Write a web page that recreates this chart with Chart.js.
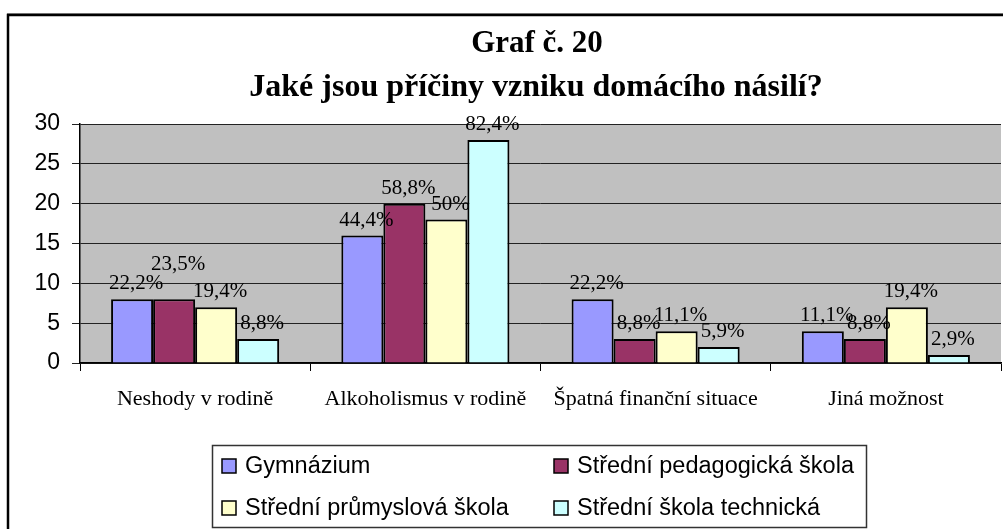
<!DOCTYPE html>
<html>
<head>
<meta charset="utf-8">
<script src="https://cdn.jsdelivr.net/npm/chart.js@4/dist/chart.umd.min.js"></script>
<style>
  html, body { margin: 0; padding: 0; background: #fff; }
  #wrap { width: 1003px; height: 529px; position: relative; }
</style>
</head>
<body>
<div id="wrap"><canvas id="c" width="1003" height="529"></canvas></div>
<script>
const titleLines = ["Graf č. 20", "Jaké jsou příčiny vzniku domácího násilí?"];
const categories = ["Neshody v rodině", "Alkoholismus v rodině", "Špatná finanční situace", "Jiná možnost"];
const seriesNames = ["Gymnázium", "Střední pedagogická škola", "Střední průmyslová škola", "Střední škola technická"];
const gymnazium = [8, 16, 8, 4];
const pedagogicka = [8, 20, 3, 3];
const prumyslova = [7, 18, 4, 7];
const technicka = [3, 28, 2, 1];
const gymnaziumPct = ["22,2%", "44,4%", "22,2%", "11,1%"];
const pedagogickaPct = ["23,5%", "58,8%", "8,8%", "8,8%"];
const prumyslovaPct = ["19,4%", "50%", "11,1%", "19,4%"];
const technickaPct = ["8,8%", "82,4%", "5,9%", "2,9%"];
const yTicks = [0, 5, 10, 15, 20, 25, 30];

const colors = ["#9999FF", "#993366", "#FFFFCC", "#CCFFFF"];
const serif = "'Liberation Serif', 'Times New Roman', serif";
const sans = "'Liberation Sans', Arial, sans-serif";

const values = [gymnazium, pedagogicka, prumyslova, technicka];
const pcts = [gymnaziumPct, pedagogickaPct, prumyslovaPct, technickaPct];

// frame, title, grey plot area, value labels and the boxed legend
const decor = {
  id: "decor",
  beforeDraw(chart) {
    const ctx = chart.ctx;
    ctx.save();
    ctx.fillStyle = "#fff";
    ctx.fillRect(0, 0, chart.width, chart.height);
    ctx.strokeStyle = "#999";
    ctx.lineWidth = 1;
    ctx.beginPath();
    ctx.moveTo(7, 13.5);
    ctx.lineTo(chart.width, 13.5);
    ctx.stroke();
    ctx.strokeStyle = "#000";
    ctx.lineWidth = 2.5;
    ctx.strokeRect(8, 15, chart.width + 20, chart.height + 20);
    const a = chart.chartArea;
    ctx.fillStyle = "#C0C0C0";
    ctx.fillRect(a.left, a.top, a.right - a.left, a.bottom - a.top);

    ctx.fillStyle = "#000";
    ctx.textAlign = "center";
    ctx.textBaseline = "middle";
    ctx.font = "bold 31px " + serif;
    ctx.fillText(titleLines[0], 537, 44);
    ctx.font = "bold 32px " + serif;
    ctx.fillText(titleLines[1], 536, 88);
    ctx.restore();
  },
  afterDatasetsDraw(chart) {
    const ctx = chart.ctx;
    ctx.save();
    ctx.font = "21px " + serif;
    ctx.fillStyle = "#000";
    ctx.textAlign = "center";
    ctx.textBaseline = "alphabetic";
    const h = 15;
    categories.forEach((c, j) => {
      const placed = [];
      chart.data.datasets.forEach((ds, i) => {
        const bar = chart.getDatasetMeta(i).data[j];
        const text = pcts[i][j];
        const w = ctx.measureText(text).width;
        const x = bar.x + 4;
        let y = bar.y - 10;
        // lift a label that would sit on top of its left neighbour
        placed.forEach((p) => {
          const hOver = Math.min(p.x + p.w / 2, x + w / 2) - Math.max(p.x - p.w / 2, x - w / 2);
          const vOver = Math.min(p.y, y) - Math.max(p.y - h, y - h);
          if (hOver > 9 && vOver > 0) y = p.y - h - 4;
        });
        placed.push({ x, y, w });
        ctx.fillText(text, x, y);
      });
    });
    ctx.restore();
  },
  afterDraw(chart) {
    const ctx = chart.ctx;
    ctx.save();
    ctx.strokeStyle = "#333";
    ctx.lineWidth = 1.5;
    ctx.strokeRect(212.5, 445.5, 654, 82);
    ctx.font = "23.5px " + sans;
    ctx.textBaseline = "middle";
    const cols = [222, 554];
    const rows = [466, 508];
    chart.data.datasets.forEach((ds, i) => {
      const x = cols[i % 2];
      const y = rows[Math.floor(i / 2)];
      ctx.fillStyle = ds.backgroundColor;
      ctx.fillRect(x, y - 7, 14, 14);
      ctx.strokeStyle = "#000";
      ctx.lineWidth = 1.5;
      ctx.strokeRect(x, y - 7, 14, 14);
      ctx.fillStyle = "#000";
      ctx.fillText(ds.label, x + 23, y + 1);
    });
    ctx.restore();
  }
};

new Chart(document.getElementById("c"), {
  type: "bar",
  data: {
    labels: categories,
    datasets: seriesNames.map((name, i) => ({
      label: name,
      data: values[i],
      backgroundColor: colors[i],
      borderColor: "#000",
      borderWidth: 2,
      barPercentage: 1,
      categoryPercentage: 0.73
    }))
  },
  options: {
    responsive: false,
    animation: false,
    layout: { padding: { top: 124, left: 0, right: 2, bottom: 106 } },
    plugins: {
      legend: { display: false },
      tooltip: { enabled: false },
      title: { display: false }
    },
    scales: {
      x: {
        offset: true,
        grid: { offset: true, drawOnChartArea: false, drawTicks: true, tickLength: 8, color: "#000" },
        border: { color: "#000", width: 1.5 },
        ticks: { color: "#000", font: { family: serif, size: 22 }, padding: 15, maxRotation: 0 },
        afterFit: (s) => { s.height = 60; }
      },
      y: {
        min: 0,
        max: 30,
        afterBuildTicks: (s) => { s.ticks = yTicks.map((v) => ({ value: v })); },
        grid: { color: "#222", lineWidth: 1, tickLength: 8 },
        border: { color: "#000", width: 1.5 },
        ticks: { color: "#000", font: { family: sans, size: 23 }, padding: 12 },
        afterFit: (s) => { s.width = 80; }
      }
    }
  },
  plugins: [decor]
});
</script>
</body>
</html>
